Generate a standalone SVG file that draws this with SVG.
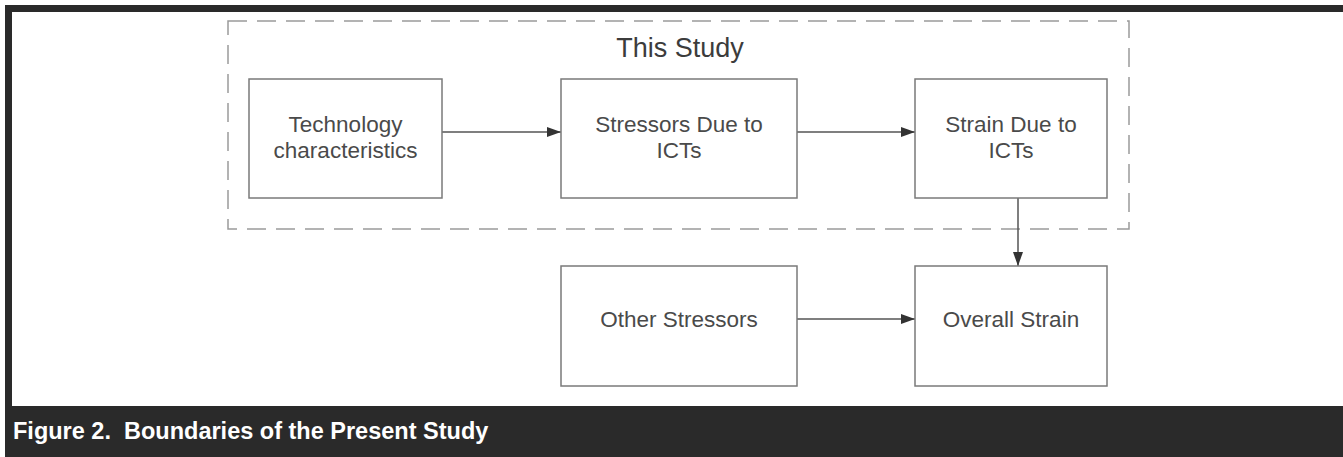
<svg xmlns="http://www.w3.org/2000/svg" width="1343" height="457" viewBox="0 0 1343 457">
  <style>
    .box { fill: #ffffff; stroke: #7a7a7a; stroke-width: 1.5; }
    .label { font-family: "Liberation Sans", Arial, sans-serif; font-size: 22.5px; fill: #4a4a4a; text-anchor: middle; }
    .edge { stroke: #555555; stroke-width: 1.5; fill: none; marker-end: url(#arrow); }
    .boundary { fill: none; stroke: #9a9a9a; stroke-width: 1.5; stroke-dasharray: 19 10; }
  </style>
  <defs>
    <marker id="arrow" viewBox="0 0 14 10" refX="14" refY="5" markerWidth="14" markerHeight="10" markerUnits="userSpaceOnUse" orient="auto">
      <path d="M0,0 L14,5 L0,10 z" fill="#333333"/>
    </marker>
  </defs>

  <!-- frame and caption band -->
  <rect x="0" y="0" width="1343" height="457" fill="#ffffff"/>
  <rect x="5" y="5" width="1338" height="452" fill="#2a2a2a"/>
  <rect x="12" y="12" width="1331" height="394" fill="#ffffff"/>
  <text x="13" y="439" font-family="'Liberation Sans', Arial, sans-serif" font-size="23.5" font-weight="bold" fill="#ffffff" xml:space="preserve">Figure 2.  Boundaries of the Present Study</text>

  <!-- study boundary -->
  <g id="boundary">
    <rect class="boundary" x="228" y="21" width="901" height="208"/>
    <text x="680" y="57" font-family="'Liberation Sans', Arial, sans-serif" font-size="27" fill="#3c3c3c" text-anchor="middle">This Study</text>
  </g>

  <!-- connectors -->
  <g id="connectors">
    <line class="edge" x1="442" y1="132" x2="561" y2="132"/>
    <line class="edge" x1="797" y1="132" x2="915" y2="132"/>
    <line class="edge" x1="1018" y1="198" x2="1018" y2="266"/>
    <line class="edge" x1="797" y1="319" x2="915" y2="319"/>
  </g>

  <g id="tech">
    <rect class="box" x="249" y="79" width="193" height="119"/>
    <text class="label" x="345.5" y="131.5">Technology</text>
    <text class="label" x="345.5" y="157.5">characteristics</text>
  </g>

  <g id="stressors-ict">
    <rect class="box" x="561" y="79" width="236" height="119"/>
    <text class="label" x="679" y="131.5">Stressors Due to</text>
    <text class="label" x="679" y="158">ICTs</text>
  </g>

  <g id="strain-ict">
    <rect class="box" x="915" y="79" width="192" height="119"/>
    <text class="label" x="1011" y="131.5">Strain Due to</text>
    <text class="label" x="1011" y="158">ICTs</text>
  </g>

  <g id="other-stressors">
    <rect class="box" x="561" y="266" width="236" height="120"/>
    <text class="label" x="679" y="327">Other Stressors</text>
  </g>

  <g id="overall-strain">
    <rect class="box" x="915" y="266" width="192" height="120"/>
    <text class="label" x="1011" y="327">Overall Strain</text>
  </g>
</svg>
